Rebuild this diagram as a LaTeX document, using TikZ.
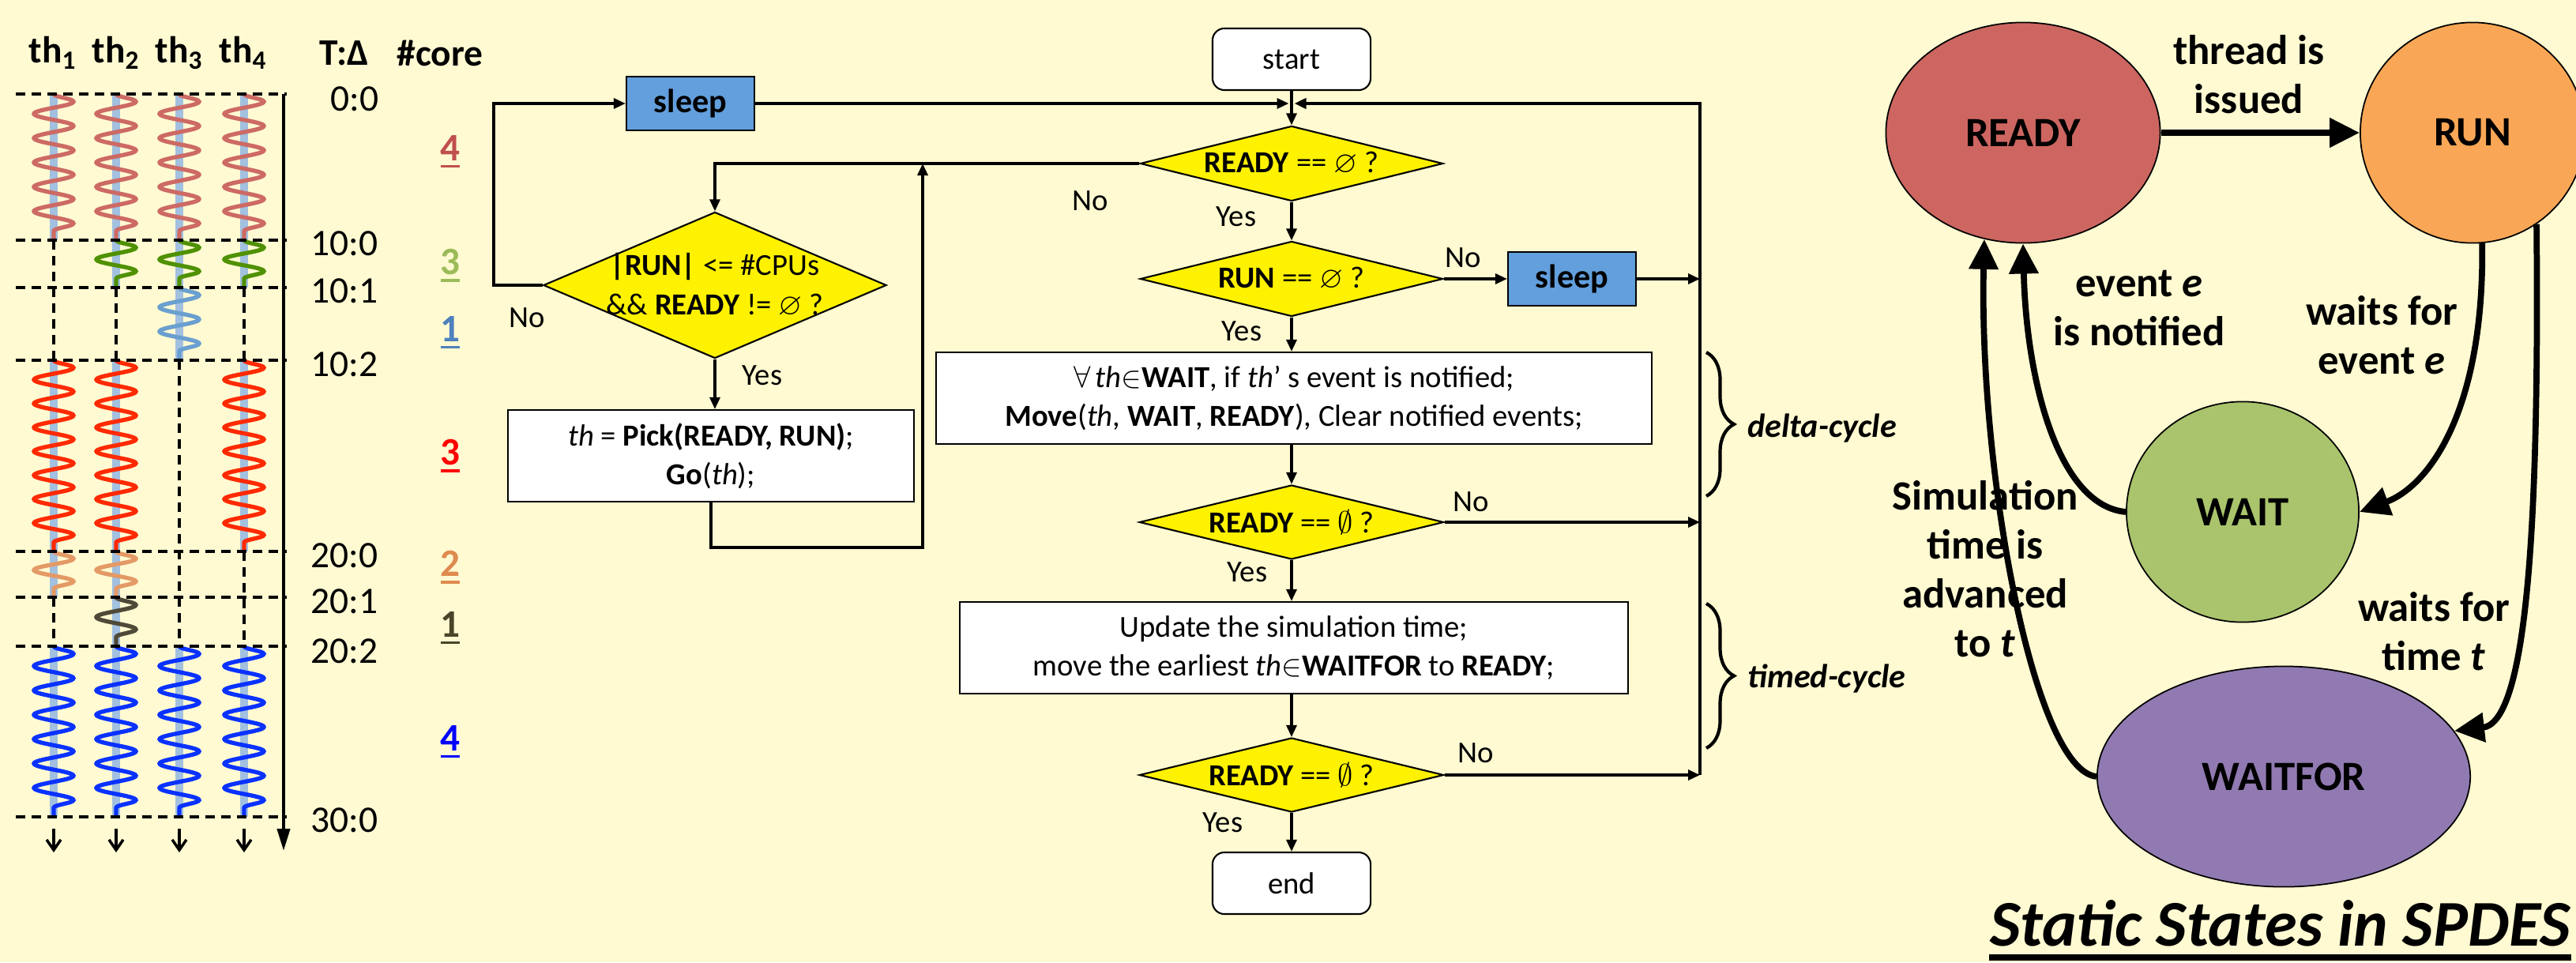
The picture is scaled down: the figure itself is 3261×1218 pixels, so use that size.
\documentclass[tikz,border=0pt]{standalone}
\usepackage{amssymb}
\usepackage{fontspec}
\setmainfont{Carlito}
\usetikzlibrary{arrows.meta,shapes.geometric,decorations.pathmorphing,decorations.pathreplacing}

\definecolor{bgyellow}{HTML}{FFFAD2}
\definecolor{sleepblue}{HTML}{629FDC}
\definecolor{barblue}{HTML}{A2C0DF}
\definecolor{readyred}{HTML}{CD6661}
\definecolor{runorange}{HTML}{F9A756}
\definecolor{waitgreen}{HTML}{A9C46C}
\definecolor{waitforpurple}{HTML}{917AB1}
\definecolor{wavrose}{HTML}{CD6A64}
\definecolor{wavgreen}{HTML}{4F9100}
\definecolor{wavsky}{HTML}{6A9FCF}
\definecolor{wavred}{HTML}{FF2A00}
\definecolor{wavorange}{HTML}{E49A66}
\definecolor{wavolive}{HTML}{4F4A38}
\definecolor{wavblue}{HTML}{0A32FF}
\definecolor{corerose}{HTML}{C0504D}
\definecolor{coregreen}{HTML}{9BBB59}
\definecolor{coresky}{HTML}{4F81BD}
\definecolor{coreorange}{HTML}{DF8A4E}
\definecolor{coreolive}{HTML}{4A452A}

% thick underline: depth, thickness, text
\newcommand{\thickul}[3]{\setbox0\hbox{#3}\rlap{\rule[-#1]{\wd0}{#2}}\box0}
% one running slice of a thread: x, from, to, colour, periods
\newcommand{\thrun}[5]{%
  \draw[runbar] (#1,#2) -- (#1,#3);
  \pgfmathsetmacro{\seglen}{(#3-#2)/#5*0.01}
  \draw[wave, draw=#4, decoration={segment length=\seglen cm}] (#1,#2) -- (#1,#3);
}
\newcommand{\flowfont}{\fontsize{11}{14}\selectfont}

\begin{document}
\begin{tikzpicture}[x=0.01cm, y=-0.01cm,
    flow/.style={line width=0.9pt, -{Triangle[length=1.5mm,width=1.3mm]}},
    bus/.style={line width=1.1pt},
    decision/.style={diamond, draw, fill=yellow, line width=0.6pt, inner sep=0pt},
    proc/.style={rectangle, draw, fill=white, line width=0.6pt, align=center, font=\flowfont},
    sleepbox/.style={rectangle, draw, fill=sleepblue, line width=0.6pt, minimum width=1.62cm, minimum height=0.68cm, font=\bfseries\fontsize{12}{14}\selectfont},
    term/.style={rectangle, rounded corners=1.5mm, draw, fill=white, line width=0.6pt, minimum width=2cm, minimum height=0.78cm, font=\flowfont},
    answer/.style={font=\flowfont},
    state/.style={ellipse, draw, line width=0.5pt, minimum height=2.79cm, font=\bfseries\fontsize{15}{18}\selectfont},
    trans/.style={line width=2.2pt, -{Triangle[length=3.8mm,width=3.6mm]}},
    translabel/.style={align=center, font=\bfseries\fontsize{15}{17.6}\selectfont},
    runbar/.style={draw=barblue, line width=1mm},
    wave/.style={decorate, decoration={snake, amplitude=0.25cm}, line width=1.5pt},
    idle/.style={line width=1.1pt, dash pattern=on 1.2mm off 0.8mm},
    grid/.style={line width=1.1pt, dash pattern=on 1.2mm off 0.8mm},
    head/.style={font=\bfseries\fontsize{13.5}{15}\selectfont},
    stamp/.style={anchor=west, font=\fontsize{13.5}{16}\selectfont},
    core/.style={font=\bfseries\fontsize{14}{16}\selectfont},
    cycle/.style={anchor=west, font=\bfseries\itshape\fontsize{12}{14}\selectfont}
]

\fill[bgyellow] (0,0) rectangle (3261,1218);
\useasboundingbox (0,0) rectangle (3261,1218);

% ---------------- thread time line ----------------
\foreach \x/\i in {67/1,147/2,227/3,308/4}
  \node[head] (th\i) at (\x,67) {th\textsubscript{\i}};
\node[head] (tdelta) at (436,67) {T:Δ};
\node[head] (ncore) at (557,67) {\#core};

\foreach \x in {68,147,227,309} {\thrun{\x}{119}{304}{wavrose}{6}}
\foreach \x in {147,227,309} {\thrun{\x}{304}{364}{wavgreen}{2}}
\thrun{227}{364}{456}{wavsky}{3}
\foreach \x in {68,147,309} {\thrun{\x}{456}{698}{wavred}{8}}
\foreach \x in {68,147} {\thrun{\x}{698}{756}{wavorange}{2}}
\thrun{147}{756}{818}{wavolive}{2}
\foreach \x in {68,147,227,309} {\thrun{\x}{818}{1034}{wavblue}{7}}

\draw[idle] (68,304) -- (68,456);
\draw[idle] (147,364) -- (147,456);
\draw[idle] (309,364) -- (309,456);
\draw[idle] (227,456) -- (227,818);
\draw[idle] (309,698) -- (309,818);
\draw[idle] (68,756) -- (68,818);

\foreach \y in {119,304,364,456,698,756,818,1034}
  \draw[grid] (20,\y) -- (363,\y);

\draw[line width=1.2pt, -{Triangle[length=2.8mm,width=1.6mm]}] (359,119) -- (359,1077);
\foreach \x in {68,147,227,309}
  \draw[line width=1pt, -{Straight Barb[length=1.3mm,width=1.8mm]}] (\x,1049) -- (\x,1079);

\node[stamp] (t0) at (406,125) {0:0};
\foreach \y/\t/\n in {308/10:0/t1, 368/10:1/t2, 461/10:2/t3, 703/20:0/t4, 761/20:1/t5, 824/20:2/t6, 1038/30:0/t7}
  \node[stamp] (\n) at (381,\y) {\t};

\foreach \y/\c/\v/\n in {192/corerose/4/c1, 336/coregreen/3/c2, 421/coresky/1/c3, 577/red/3/c4, 718/coreorange/2/c5, 795/coreolive/1/c6, 939/blue/4/c7}
  \node[core, text=\c] (\n) at (570,\y) {\thickul{2.5pt}{1.1pt}{\v}};

% ---------------- scheduler flow ----------------
\node[sleepbox] (sleepA) at (874,131) {sleep};
\node[decision, minimum width=4.34cm, minimum height=1.85cm,
      label={[font=\flowfont, align=center]center:{\textbf{|RUN|} <= \#CPUs\\ \&\& \textbf{READY} != $\varnothing$ ?}}] (cpus) at (905,361) {};
\node[proc, minimum width=5.13cm, minimum height=1.16cm] (pick) at (900,577)
  {\textit{th} = \textbf{Pick(READY, RUN)};\\ \textbf{Go}(\textit{th});};

\node[term] (start) at (1635,75) {start};
\node[decision, minimum width=3.83cm, minimum height=0.95cm,
      label={[font=\flowfont]center:{\textbf{READY} == $\varnothing$ ?}}] (rdyA) at (1635,207) {};
\node[decision, minimum width=3.83cm, minimum height=0.95cm,
      label={[font=\flowfont]center:{\textbf{RUN} == $\varnothing$ ?}}] (runE) at (1635,353) {};
\node[sleepbox] (sleepB) at (1990,353) {sleep};
\node[proc, minimum width=9.06cm, minimum height=1.16cm] (move) at (1638,504)
  {$\forall$\,\textit{th}$\in$\textbf{WAIT}, if \textit{th}' s event is notified;\\
   \textbf{Move}(\textit{th}, \textbf{WAIT}, \textbf{READY}), Clear notified events;};
\node[decision, minimum width=3.85cm, minimum height=0.94cm,
      label={[font=\flowfont]center:{\textbf{READY} == $\emptyset$ ?}}] (rdyB) at (1635,661) {};
\node[proc, minimum width=8.46cm, minimum height=1.16cm] (update) at (1638,820)
  {Update the simulation time;\\ move the earliest \textit{th}$\in$\textbf{WAITFOR} to \textbf{READY};};
\node[decision, minimum width=3.85cm, minimum height=0.94cm,
      label={[font=\flowfont]center:{\textbf{READY} == $\emptyset$ ?}}] (rdyC) at (1635,981) {};
\node[term] (end) at (1635,1118) {end};

\coordinate (nol) at (625,131);
\coordinate (back) at (1168,693);
\coordinate (busT) at (2152,131);

\draw[flow] (cpus.west) -- (cpus.west -| nol) -- (nol) -- (sleepA.west);
\draw[flow] (cpus.south) -- (cpus.south |- pick.north);
\draw[flow] (pick.south) -- (pick.south |- back) -- (back) -- (back |- rdyA.west);
\draw[flow] (rdyA.west) -- (rdyA.west -| cpus.north) -- (cpus.north);
\draw[flow, shorten >=1pt] (sleepA.east) -- (start.south |- sleepA.east);
\draw[flow, shorten >=1pt, bus] (busT |- rdyC.east) -- (busT) -- (start.south |- busT);
\draw[flow] (start.south) -- (rdyA.north);
\draw[flow] (rdyA.south) -- (runE.north);
\draw[flow] (runE.east) -- (sleepB.west);
\draw[flow] (sleepB.east) -- (sleepB.east -| busT);
\draw[flow] (runE.south) -- (runE.south |- move.north);
\draw[flow] (move.south -| rdyB.north) -- (rdyB.north);
\draw[flow] (rdyB.east) -- (rdyB.east -| busT);
\draw[flow] (rdyB.south) -- (rdyB.south |- update.north);
\draw[flow] (update.south -| rdyC.north) -- (rdyC.north);
\draw[flow] (rdyC.east) -- (rdyC.east -| busT);
\draw[flow] (rdyC.south) -- (end.north);

\node[answer] (noA) at (667,402) {No};
\node[answer] (yesA) at (965,475) {Yes};
\node[answer] (noB) at (1380,254) {No};
\node[answer] (yesB) at (1565,274) {Yes};
\node[answer] (noC) at (1852,326) {No};
\node[answer] (yesC) at (1572,419) {Yes};
\node[answer] (noD) at (1862,635) {No};
\node[answer] (yesD) at (1579,724) {Yes};
\node[answer] (noE) at (1868,953) {No};
\node[answer] (yesE) at (1548,1041) {Yes};

\draw[line width=1.2pt, decorate, decoration={brace, amplitude=0.35cm}] (2160,446) -- (2160,628);
\draw[line width=1.2pt, decorate, decoration={brace, amplitude=0.35cm}] (2160,764) -- (2160,947);
\node[cycle] (delta) at (2200,542) {delta-cycle};
\node[cycle] (timed) at (2200,859) {timed-cycle};

% ---------------- static states ----------------
\node[state, fill=readyred, minimum width=3.47cm] (ready) at (2561,168) {READY};
\node[state, fill=runorange, minimum width=2.84cm] (run) at (3130,168) {RUN};
\node[state, fill=waitgreen, minimum width=2.94cm] (wait) at (2839,648) {WAIT};
\node[state, fill=waitforpurple, minimum width=4.72cm] (waitfor) at (2891,983) {WAITFOR};

\node[translabel] (issued) at (2847,94) {thread is\\ issued};
\node[translabel] (notified) at (2708,390) {event \textit{e}\\ is notified};
\node[translabel] (waitev) at (3015,424) {waits for\\ event \textit{e}};
\node[translabel] (waittm) at (3081,799) {waits for\\ time \textit{t}};
\node[translabel] (advanced) at (2513,720) {Simulation\\ time is\\ advanced\\ to \textit{t}};

\draw[trans] (ready) -- (run);
\draw[trans] (run.275) .. controls (3145,520) and (3075,615) .. (wait.east);
\draw[trans] (wait.west) .. controls (2605,640) and (2565,480) .. (ready.south);
\draw[trans] (run.305) .. controls (3215,700) and (3195,915) .. (waitfor.15);
\draw[trans] (waitfor.west) .. controls (2575,975) and (2505,600) .. (ready.250);

\node[anchor=base east, inner xsep=0pt, font=\bfseries\itshape\fontsize{23.5}{27}\selectfont] (title) at (3255,1197) {Static States in SPDES};
\draw[line width=2.2pt] (title.west |- 0,1212) -- (title.east |- 0,1212);

\end{tikzpicture}
\end{document}
